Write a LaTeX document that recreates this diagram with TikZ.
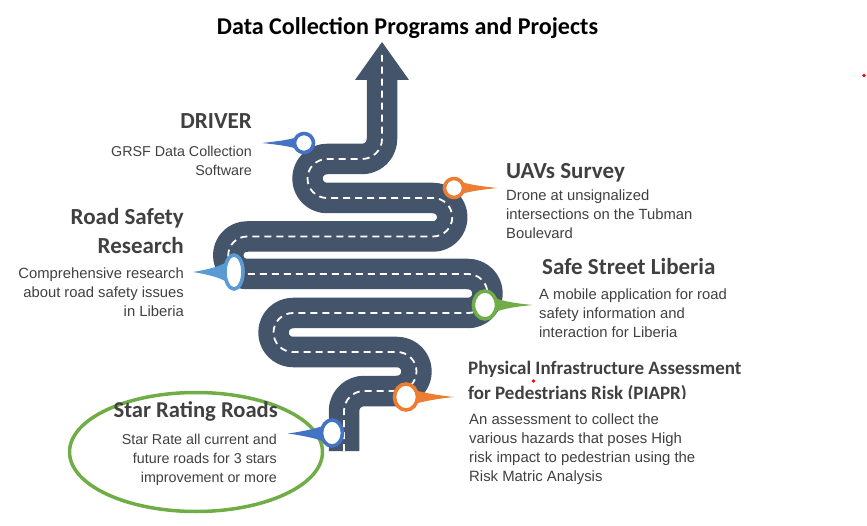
\documentclass[tikz,border=0pt]{standalone}
\usepackage{fontspec}
\setmainfont{Liberation Sans}
\newfontfamily\headfont{Carlito}
\usetikzlibrary{shapes.geometric}
\definecolor{roadc}{HTML}{44546A}
\definecolor{txtc}{HTML}{404040}
\definecolor{bluec}{HTML}{4472C4}
\definecolor{lbluec}{HTML}{5B9BD5}
\definecolor{orangec}{HTML}{ED7D31}
\definecolor{greenc}{HTML}{70AD47}
\tikzset{
  x=1pt,y=-1pt,
  roadpath/.style={line width=30.5pt,draw=roadc,line join=round},
  roaddash/.style={line width=1.8pt,draw=white,dash pattern=on 7pt off 5pt},
  pinmark/.style={ellipse,draw=#1,line width=3.6pt,fill=white,inner sep=0pt},
  head/.style={text=txtc,font=\headfont\bfseries\fontsize{23}{29}\selectfont,inner sep=0pt},
  bodyr/.style={text=txtc,font=\fontsize{14.8}{19}\selectfont,inner sep=0pt,align=right,anchor=north east},
  bodyl/.style={text=txtc,font=\fontsize{14.8}{19}\selectfont,inner sep=0pt,align=left,anchor=north west},
  bodysmall/.style={font=\fontsize{14.3}{19}\selectfont},
}
\begin{document}
\begin{tikzpicture}
\useasboundingbox (0,0) rectangle (867,526);
% road
\draw[roadpath] (344,451) -- (344,411) arc[start angle=180,end angle=270,radius=20] -- (397,391)
  arc[start angle=90,end angle=-90,radius=19.5] -- (293,352)
  arc[start angle=90,end angle=270,radius=19.5] -- (468,313)
  arc[start angle=90,end angle=-90,radius=19.5] -- (247,274)
  arc[start angle=90,end angle=270,radius=18.75] -- (433,236.5)
  arc[start angle=90,end angle=-90,radius=19.25] -- (327,198)
  arc[start angle=90,end angle=270,radius=19.5] -- (362,159)
  arc[start angle=90,end angle=0,radius=20] -- (382,78);
\fill[roadc] (382,42) -- (409,80) -- (355,80) -- cycle;
\draw[roaddash] (344,451) -- (344,411) arc[start angle=180,end angle=270,radius=20] -- (397,391)
  arc[start angle=90,end angle=-90,radius=19.5] -- (293,352)
  arc[start angle=90,end angle=270,radius=19.5] -- (468,313)
  arc[start angle=90,end angle=-90,radius=19.5] -- (247,274)
  arc[start angle=90,end angle=270,radius=18.75] -- (433,236.5)
  arc[start angle=90,end angle=-90,radius=19.25] -- (327,198)
  arc[start angle=90,end angle=270,radius=19.5] -- (362,159)
  arc[start angle=90,end angle=0,radius=20] -- (382,55);
% star rating ellipse
\node[ellipse,draw=greenc,line width=3.5pt,minimum width=253pt,minimum height=119pt,inner sep=0pt] (starring) at (196,452) {};
% pointers
\fill[bluec] (262,143) .. controls (280,141) and (290,140) .. (304,135) -- (304,151) .. controls (290,146) and (280,145) .. (262,143) -- cycle;
\fill[orangec] (497,188) .. controls (480,186) and (470,185) .. (454,180) -- (454,196) .. controls (470,191) and (480,190) .. (497,188) -- cycle;
\fill[lbluec] (193,272) .. controls (210,269) and (220,267) .. (234,258) -- (234,286) .. controls (220,277) and (210,275) .. (193,272) -- cycle;
\fill[greenc] (533,305) .. controls (512,303) and (500,301) .. (485,294) -- (485,316) .. controls (500,309) and (512,307) .. (533,305) -- cycle;
\fill[orangec] (454,397) .. controls (435,395) and (425,393) .. (406,388) -- (406,406) .. controls (425,401) and (435,399) .. (454,397) -- cycle;
\fill[bluec] (288,433.5) .. controls (305,431) and (315,429) .. (332,423) -- (332,444) .. controls (315,438) and (305,436) .. (288,433.5) -- cycle;
% markers
\node[pinmark=bluec,minimum width=19pt,minimum height=19pt] (mdriver) at (304,143) {};
\node[pinmark=orangec,minimum width=19pt,minimum height=19pt] (muav) at (454,188) {};
\node[pinmark=lbluec,minimum width=18pt,minimum height=34pt] (mresearch) at (234,272) {};
\node[pinmark=greenc,minimum width=23pt,minimum height=28pt] (msafe) at (485,305) {};
\node[pinmark=orangec,minimum width=23pt,minimum height=26pt] (mpiapr) at (406,397) {};
\node[pinmark=bluec,minimum width=21pt,minimum height=26pt] (mstar) at (332,433) {};
% title
\node[inner sep=0pt,font=\headfont\bfseries\fontsize{24.1}{28}\selectfont,text=black] (title) at (407.5,28) {Data Collection Programs and Projects};
% labels
\node[head,anchor=east] (tdriver) at (252,121.5) {DRIVER};
\node[bodyr,bodysmall] (bdriver) at (252,145.5) {GRSF Data Collection\\Software};
\node[head,anchor=west] (tuav) at (506,172.5) {UAVs Survey};
\node[bodyl] (buav) at (506,190) {Drone at unsignalized\\intersections on the Tubman\\Boulevard};
\node[head,anchor=north east,align=right] (tresearch) at (184,208.5) {Road Safety\\Research};
\node[bodyr] (bresearch) at (184,267.5) {Comprehensive research\\about road safety issues\\in Liberia};
\node[head,anchor=west] (tsafe) at (542,267) {Safe Street Liberia};
\node[bodyl] (bsafe) at (539,289) {A mobile application for road\\safety information and\\interaction for Liberia};
\begin{scope}
\clip (460,355) rectangle (760,398);
\node[anchor=north west,inner sep=0pt,align=left,text=txtc,font=\headfont\bfseries\fontsize{19}{25}\selectfont] (tpiapr) at (468,361) {Physical Infrastructure Assessment\\for Pedestrians Risk (PIAPR)};
\end{scope}
\node[bodyl,font=\fontsize{14.9}{19}\selectfont] (bpiapr) at (469,414) {An assessment to collect the\\various hazards that poses High\\risk impact to pedestrian using the\\Risk Matric Analysis};
\node[head,anchor=east,font=\headfont\bfseries\fontsize{22.6}{29}\selectfont] (tstar) at (278,411.5) {Star Rating Roads};
\node[bodyr,bodysmall] (bstar) at (277,434) {Star Rate all current and\\future roads for 3 stars\\improvement or more};
% red specks
\fill[red] (864,75.5) circle (1.8);
\fill[red] (533.5,381) circle (1.8);
\end{tikzpicture}
\end{document}
